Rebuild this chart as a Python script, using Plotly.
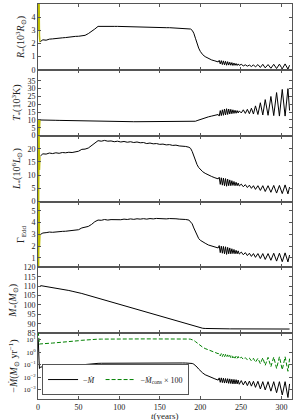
import plotly.graph_objects as go
from plotly.subplots import make_subplots

# ---------------- data ----------------
# initial transient (t < 3 yr), drawn in yellow in the upper four panels
t_init = [0.3, 0.8, 1.3, 1.8, 2.4]
R_init = [6.0, 3.0, 5.8, 2.6, 2.1]
T_init = [0.0, 10.2, 0.3, 9.6, 10.0]
L_init = [30.0, 0.0, 28.0, 12.0, 17.0]
G_init = [7.0, 0.0, 6.5, 2.0, 3.0]
Mdot_init = [12.0, 4.0, 0.2, 0.05, 0.06]
Mcons_init = [40.0, 12.0, 5.0, 4.2, 4.4]

t_years = [3, 6, 10, 14, 18, 22, 26, 30, 34, 38, 42, 46, 50, 54, 58, 62, 66, 70, 74, 78,
           82, 86, 90, 94, 98, 102, 106, 110, 114, 118, 122, 126, 130, 134, 138, 142, 146,
           150, 154, 158, 162, 166, 170, 174, 178, 182, 186,
           188, 190, 192, 194, 196, 198, 200, 203, 206, 210, 214, 218, 222,
           223.3, 224.6, 225.9, 227.2, 228.5, 229.8, 231.1, 232.4, 233.7, 235, 236.3, 237.6,
           238.9, 240.2, 241.5, 242.8, 244.1, 245.4, 246.7, 248,
           250.5, 253, 255.5, 258, 260.5, 263, 265.5, 268, 271, 274, 277, 280, 283.5, 287,
           290.5, 294, 297.5, 301, 304.5, 308, 310]

radius = [2.15, 2.28, 2.25, 2.33, 2.35, 2.36, 2.41, 2.43, 2.45, 2.49, 2.5, 2.54, 2.55, 2.6,
          2.62, 2.75, 2.9, 3.1, 3.3, 3.31, 3.32, 3.31, 3.31, 3.3, 3.3, 3.29, 3.29, 3.28, 3.28,
          3.27, 3.26, 3.26, 3.25, 3.24, 3.24, 3.23, 3.22, 3.22, 3.21, 3.2, 3.2, 3.19, 3.18,
          3.17, 3.16, 3.15, 3.13,
          3.1, 3.0, 2.78, 2.4, 2.0, 1.65, 1.4, 1.15, 1.0, 0.85, 0.75, 0.68, 0.6,
          0.72, 0.45, 0.7, 0.4, 0.68, 0.38, 0.65, 0.35, 0.62, 0.36, 0.58, 0.35, 0.55, 0.33,
          0.52, 0.34, 0.48, 0.33, 0.45, 0.34,
          0.42, 0.3, 0.38, 0.28, 0.36, 0.25, 0.38, 0.22, 0.4, 0.18, 0.42, 0.15, 0.4, 0.12,
          0.42, 0.1, 0.43, 0.08, 0.45, 0.05, 0.35]

temperature = [10.0, 9.9, 9.9, 9.85, 9.8, 9.8, 9.75, 9.7, 9.7, 9.65, 9.6, 9.6, 9.55, 9.5,
               9.45, 9.35, 9.25, 9.1, 9.0, 8.95, 8.95, 8.95, 8.95, 8.94, 8.94, 8.93, 8.93,
               8.92, 8.92, 8.91, 8.91, 8.9, 8.9, 8.9, 8.89, 8.89, 8.88, 8.88, 8.88, 8.87,
               8.87, 8.87, 8.86, 8.86, 8.86, 8.85, 8.85,
               8.85, 8.8, 8.9, 9.2, 9.6, 10.0, 10.4, 10.9, 11.4, 12.0, 12.5, 13.0, 13.5,
               12.5, 16.0, 12.8, 16.5, 13.0, 17.0, 13.2, 17.2, 13.5, 17.0, 13.8, 16.8, 14.0,
               16.5, 14.2, 16.2, 14.3, 16.0, 14.5, 15.8,
               14.5, 16.5, 14.2, 16.8, 14.0, 17.5, 13.8, 19.0, 13.5, 21.0, 13.2, 23.0, 13.0,
               25.0, 12.8, 27.5, 12.5, 29.5, 12.5, 30.0, 16.0]

luminosity = [17.3, 18.1, 18.0, 18.4, 18.2, 18.5, 18.3, 18.6, 18.5, 18.7, 18.6, 18.9, 19.1,
              19.8, 19.9, 20.3, 21.2, 22.4, 23.1, 22.9, 23.2, 22.9, 23.0, 22.7, 22.9, 22.6,
              22.8, 22.5, 22.7, 22.4, 22.6, 22.3, 22.4, 22.0, 22.2, 21.9, 22.0, 21.7, 21.8,
              21.5, 21.6, 21.3, 21.4, 21.1, 21.1, 20.9, 20.6,
              20.2, 19.0, 17.2, 15.5, 14.0, 12.9, 12.1, 11.3, 10.7, 10.0, 9.5, 9.0, 8.6,
              9.2, 6.5, 9.0, 6.2, 8.9, 6.0, 8.7, 5.8, 8.5, 6.0, 8.2, 6.0, 7.9, 6.1, 7.6, 6.0,
              7.3, 6.0, 7.0, 5.9,
              6.6, 5.6, 6.4, 5.3, 6.2, 5.0, 6.0, 4.6, 6.0, 4.2, 6.0, 3.8, 6.0, 3.5, 6.1, 3.2,
              6.1, 3.0, 6.3, 2.9, 5.5]

gamma_edd = [3.0, 3.12, 3.15, 3.2, 3.18, 3.22, 3.24, 3.26, 3.27, 3.3, 3.31, 3.35, 3.4, 3.55,
             3.6, 3.68, 3.85, 4.08, 4.22, 4.2, 4.27, 4.22, 4.26, 4.24, 4.28, 4.25, 4.3, 4.27,
             4.32, 4.28, 4.33, 4.3, 4.34, 4.3, 4.35, 4.32, 4.36, 4.33, 4.36, 4.32, 4.35, 4.31,
             4.33, 4.3, 4.3, 4.27, 4.22,
             4.1, 3.9, 3.55, 3.2, 2.9, 2.65, 2.5, 2.35, 2.25, 2.1, 2.0, 1.9, 1.85,
             2.05, 1.45, 2.0, 1.4, 1.98, 1.35, 1.95, 1.3, 1.9, 1.35, 1.85, 1.35, 1.78, 1.37,
             1.72, 1.35, 1.65, 1.35, 1.6, 1.33,
             1.5, 1.27, 1.45, 1.2, 1.4, 1.13, 1.37, 1.05, 1.37, 0.95, 1.37, 0.87, 1.37, 0.8,
             1.4, 0.73, 1.4, 0.68, 1.43, 0.66, 1.25]

mass = [110.3, 110.1, 109.8, 109.5, 109.2, 108.9, 108.6, 108.3, 108.0, 107.7, 107.3, 107.0,
        106.6, 106.1, 105.6, 105.1, 104.6, 104.1, 103.6, 103.1, 102.6, 102.1, 101.5, 101.0,
        100.5, 100.0, 99.5, 99.0, 98.5, 98.0, 97.5, 97.0, 96.5, 96.0, 95.5, 95.0, 94.5, 94.0,
        93.5, 93.0, 92.5, 92.0, 91.5, 91.0, 90.5, 90.0, 89.5,
        89.25, 89.0, 88.75, 88.5, 88.25, 88.0, 87.8, 87.6, 87.5, 87.42, 87.38, 87.35, 87.33,
        87.32, 87.32, 87.31, 87.31, 87.31, 87.3, 87.3, 87.3, 87.3, 87.29, 87.29, 87.29,
        87.29, 87.28, 87.28, 87.28, 87.28, 87.27, 87.27, 87.27,
        87.27, 87.26, 87.26, 87.26, 87.25, 87.25, 87.25, 87.24, 87.24, 87.24, 87.23, 87.23,
        87.23, 87.22, 87.22, 87.22, 87.21, 87.21, 87.21, 87.2, 87.2]

mdot = [0.065, 0.068, 0.07, 0.071, 0.072, 0.073, 0.074, 0.075, 0.076, 0.077, 0.079, 0.082,
        0.087, 0.094, 0.103, 0.112, 0.12, 0.125, 0.128, 0.13, 0.131, 0.131, 0.132, 0.132,
        0.132, 0.133, 0.133, 0.133, 0.133, 0.134, 0.134, 0.134, 0.134, 0.135, 0.135, 0.135,
        0.135, 0.136, 0.136, 0.136, 0.136, 0.137, 0.137, 0.137, 0.137, 0.136, 0.134,
        0.13, 0.125, 0.11, 0.09, 0.065, 0.045, 0.032, 0.022, 0.016, 0.012, 0.009, 0.0075, 0.006,
        0.009, 0.004, 0.009, 0.0038, 0.0085, 0.0035, 0.008, 0.0035, 0.0078, 0.0033, 0.0075,
        0.0032, 0.007, 0.003, 0.0068, 0.003, 0.0065, 0.003, 0.006, 0.0028,
        0.0055, 0.0025, 0.005, 0.0022, 0.005, 0.002, 0.0048, 0.0016, 0.0048, 0.0012, 0.0045,
        0.001, 0.0045, 0.0008, 0.0045, 0.0006, 0.0045, 0.0004, 0.0045, 0.00025, 0.003]

mdot_cons_x100 = [4.4, 4.6, 4.8, 5.0, 5.2, 5.4, 5.6, 5.9, 6.2, 6.6, 7.0, 7.5, 8.0, 8.6, 9.2,
                  9.7, 10.1, 10.4, 10.6, 10.7, 10.8, 10.7, 10.9, 10.8, 10.9, 10.8, 11.0, 10.9,
                  11.0, 10.9, 11.0, 10.9, 11.1, 11.0, 11.1, 11.0, 11.1, 11.0, 11.1, 11.0, 11.1,
                  11.0, 11.1, 11.0, 11.0, 10.9, 10.8,
                  10.5, 9.8, 8.5, 6.8, 5.2, 4.0, 3.2, 2.4, 1.9, 1.5, 1.2, 0.95, 0.75,
                  0.8, 0.5, 0.75, 0.45, 0.7, 0.42, 0.65, 0.4, 0.6, 0.38, 0.55, 0.36, 0.52, 0.34,
                  0.5, 0.33, 0.48, 0.32, 0.45, 0.3,
                  0.4, 0.27, 0.36, 0.24, 0.33, 0.2, 0.32, 0.16, 0.32, 0.12, 0.35, 0.09, 0.38,
                  0.07, 0.4, 0.05, 0.42, 0.04, 0.42, 0.03, 0.3]

x_ticks = [0, 50, 100, 150, 200, 250, 300]

# ---------------- figure ----------------
FONT = "Liberation Serif"
BLACK = "#000000"
YELLOW = "#bfbf00"
GREEN = "#008000"
SPINE = "#555555"

fig = make_subplots(rows=6, cols=1, shared_xaxes=True, vertical_spacing=0)

panels = [
    (R_init, radius),
    (T_init, temperature),
    (L_init, luminosity),
    (G_init, gamma_edd),
]
for i, (init, series) in enumerate(panels, start=1):
    fig.add_trace(go.Scatter(x=t_init, y=init, mode="lines", showlegend=False,
                             line=dict(color=YELLOW, width=1.5)), row=i, col=1)
    fig.add_trace(go.Scatter(x=t_years, y=series, mode="lines", showlegend=False,
                             line=dict(color=BLACK, width=1)), row=i, col=1)

fig.add_trace(go.Scatter(x=t_years, y=mass, mode="lines", showlegend=False,
                         line=dict(color=BLACK, width=1)), row=5, col=1)

fig.add_trace(go.Scatter(x=t_init + t_years, y=Mdot_init + mdot, mode="lines",
                         name="−<i>Ṁ</i>", line=dict(color=BLACK, width=1)), row=6, col=1)
fig.add_trace(go.Scatter(x=t_init + t_years, y=Mcons_init + mdot_cons_x100, mode="lines",
                         name="−<i>Ṁ</i><sub>cons</sub> × 100",
                         line=dict(color=GREEN, width=1, dash="4px,2px")), row=6, col=1)

axis_common = dict(showline=True, linecolor=SPINE, linewidth=1, mirror="ticks",
                   ticks="inside", ticklen=3, tickcolor=SPINE, showgrid=False,
                   zeroline=False, automargin=False)
tick_font = dict(family=FONT, size=8, color="#222")

for r in range(1, 7):
    fig.update_xaxes(range=[0, 313], tickvals=x_ticks, tickfont=tick_font,
                     row=r, col=1, **axis_common)

title_font = dict(family=FONT, size=10, color="#222")
fig.update_yaxes(range=[0, 5], tickvals=[0, 1, 2, 3, 4, 5], row=1, col=1, tickfont=tick_font,
                 title=dict(text="<i>R</i><sub>*</sub>(10<sup>3</sup><i>R</i><sub>⊙</sub>)",
                            font=title_font, standoff=4), **axis_common)
fig.update_yaxes(range=[0, 42], tickvals=[0, 5, 10, 15, 20, 25, 30, 35], row=2, col=1,
                 tickfont=tick_font,
                 title=dict(text="<i>T</i><sub>*</sub>(10<sup>3</sup>K)",
                            font=title_font, standoff=4), **axis_common)
fig.update_yaxes(range=[0, 25], tickvals=[0, 5, 10, 15, 20], row=3, col=1, tickfont=tick_font,
                 title=dict(text="<i>L</i><sub>*</sub>(10<sup>6</sup><i>L</i><sub>⊙</sub>)",
                            font=title_font, standoff=4), **axis_common)
fig.update_yaxes(range=[0.2, 5.8], tickvals=[1, 2, 3, 4, 5], row=4, col=1, tickfont=tick_font,
                 title=dict(text="Γ<sub>Edd</sub>", font=title_font, standoff=4),
                 **axis_common)
fig.update_yaxes(range=[85, 120], tickvals=[85, 90, 95, 100, 105, 110, 115, 120], row=5, col=1,
                 tickfont=tick_font,
                 title=dict(text="<i>M</i><sub>*</sub>(<i>M</i><sub>⊙</sub>)",
                            font=title_font, standoff=4), **axis_common)
fig.update_yaxes(type="log", range=[-3.72, 1.5], row=6, col=1,
                 tickvals=[1e-3, 1e-2, 1e-1, 1, 10],
                 ticktext=["10<sup>−3</sup>", "10<sup>−2</sup>", "10<sup>−1</sup>",
                           "10<sup>0</sup>", "10<sup>1</sup>"],
                 tickfont=dict(family=FONT, size=7, color="#222"),
                 title=dict(text="−<i>Ṁ</i>(<i>M</i><sub>⊙</sub> yr<sup>−1</sup>)",
                            font=title_font, standoff=3),
                 **axis_common)

fig.update_layout(
    width=299, height=420,
    margin=dict(l=38, r=7, t=4, b=21),
    paper_bgcolor="white", plot_bgcolor="white",
    font=dict(family=FONT, size=8, color="#222"),
    legend=dict(orientation="h", x=0.016, y=0.01, xanchor="left", yanchor="bottom",
                bgcolor="white", bordercolor=SPINE, borderwidth=1,
                font=dict(family=FONT, size=8), itemwidth=30,
                tracegroupgap=0),
    annotations=[dict(text="<i>t</i>(years)", xref="paper", yref="paper",
                      x=0.5, y=-0.043, xanchor="center", yanchor="middle",
                      showarrow=False, font=dict(family=FONT, size=9, color="#222"))],
)

fig.write_html("out.html", config={"displayModeBar": False},
               post_script="document.body.style.margin='0';document.body.style.padding='0';")
